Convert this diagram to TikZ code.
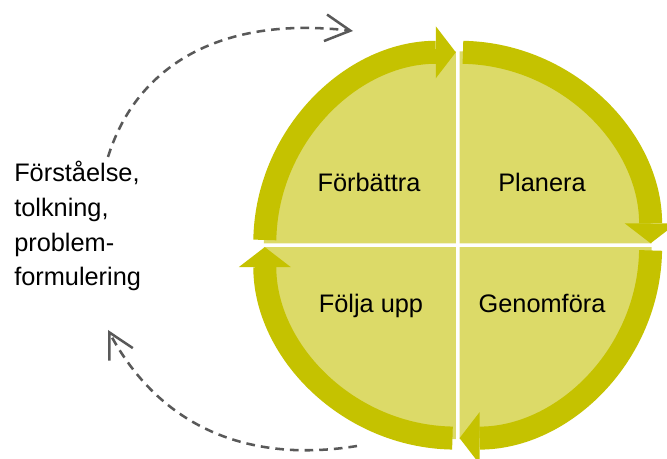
\documentclass[tikz,border=0pt]{standalone}
\usepackage{fontspec}
\setmainfont{Liberation Sans}
\usetikzlibrary{arrows.meta}
\usetikzlibrary{positioning}

\definecolor{cycledark}{RGB}{197,194,0}
\definecolor{cyclelight}{RGB}{220,218,104}
\definecolor{loopgray}{RGB}{89,89,89}

\begin{document}
\begin{tikzpicture}[x=0.75pt,y=0.75pt,
	sector/.style={fill=cyclelight},
	rim/.style={draw=cycledark,line width=17.25pt,-{Triangle[length=15pt,width=39pt,line width=0pt]}},
	dashloop/.style={draw=loopgray,line width=1.9pt,dash pattern=on 6.5pt off 4.5pt,-{Straight Barb[length=18.75pt,width=20pt]}},
	stage/.style={font=\fontsize{19}{26}\selectfont,inner sep=0pt,anchor=base}]
	\useasboundingbox (0,0) rectangle (667,459);
	\coordinate (c) at (457.7,213.8);
	% four quarters, each with its own arrow
	\foreach \s in {180,90,0,-90} {
		\begin{scope}[shift={(c)},shift={(\s-45:2.7)}]
			\fill[sector] (0,0) -- (\s:192) arc[start angle=\s,end angle=\s-90,radius=192] -- cycle;
			\draw[rim] (\s-1:191) arc[start angle=\s-1,end angle=\s-90,radius=191];
		\end{scope}
	}
	\node[stage] (forbattra) at (369,267) {Förbättra};
	\node[stage] (planera) at (542,267) {Planera};
	\node[stage] (foljaupp) at (371,146) {Följa upp};
	\node[stage] (genomfora) at (542,146) {Genomföra};
	\node[stage,anchor=base west,align=left] (forstaelse) at (14,173) {Förståelse,\\tolkning,\\problem-\\formulering};
	% dashed loop round the text
	\coordinate (topfrom) at (108,302);
	\coordinate (topto) at (353,428);
	\coordinate (botfrom) at (357,13);
	\coordinate (botto) at (108,129);
	\draw[dashloop] (topfrom) .. controls (135,389) and (215,444) .. (topto);
	\draw[dashloop] (botfrom) .. controls (248,-4.6) and (160,32) .. (botto);
\end{tikzpicture}
\end{document}
